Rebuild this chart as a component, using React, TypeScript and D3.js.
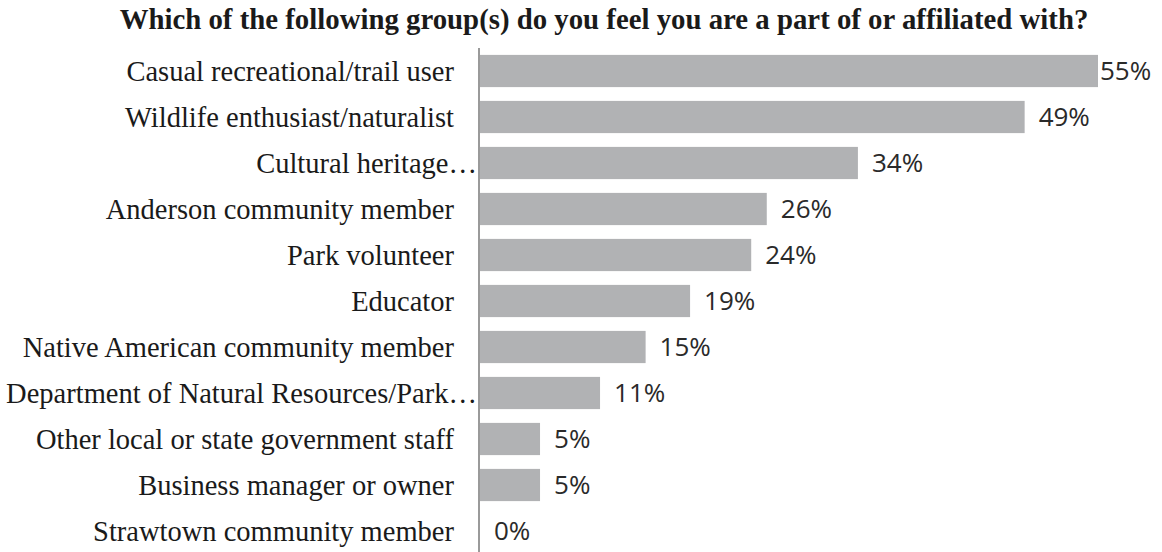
import React from "react";
import * as d3 from "d3";

const title = "Which of the following group(s) do you feel you are a part of or affiliated with?";
const categories = [
  "Casual recreational/trail user",
  "Wildlife enthusiast/naturalist",
  "Cultural heritage…",
  "Anderson community member",
  "Park volunteer",
  "Educator",
  "Native American community member",
  "Department of Natural Resources/Park…",
  "Other local or state government staff",
  "Business manager or owner",
  "Strawtown community member",
];
const values = [55.6, 49.0, 34.0, 25.8, 24.4, 18.9, 14.9, 10.8, 5.4, 5.4, 0];
const valueLabels = ["55%", "49%", "34%", "26%", "24%", "19%", "15%", "11%", "5%", "5%", "0%"];

const W = 1162;
const H = 552;
const axisX = 480;

export default function App() {
  const x = d3.scaleLinear().domain([0, 55.6]).range([axisX, 1098]);
  const y = d3
    .scaleBand<string>()
    .domain(categories)
    .range([48, 48 + categories.length * 46])
    .paddingInner(0.3)
    .paddingOuter(0.15);

  return (
    <svg
      width={W}
      height={H}
      style={{ position: "absolute", left: 0, top: 0, background: "#fff" }}
    >
      <text
        x={604}
        y={29}
        textAnchor="middle"
        fontFamily="'Liberation Serif', 'Times New Roman', serif"
        fontWeight="bold"
        fontSize={28.8}
        fill="#1a1a1a"
      >
        {title}
      </text>
      {categories.map((c, i) => {
        const yy = y(c)!;
        const bw = y.bandwidth();
        const end = x(values[i]);
        const lx = Math.min(end + 14, 1100);
        return (
          <g key={c}>
            {values[i] > 0 && (
              <rect x={axisX} y={yy} width={end - axisX} height={bw} fill="#b1b2b4" />
            )}
            <text
              x={c.endsWith("…") ? 477 : 454}
              y={yy + bw / 2}
              dy="0.35em"
              textAnchor="end"
              fontFamily="'Liberation Serif', 'Times New Roman', serif"
              fontSize={28.5}
              fill="#1a1a1a"
            >
              {c}
            </text>
            <text
              x={lx}
              y={yy + bw / 2}
              dy="0.36em"
              fontFamily="'Open Sans', 'Noto Sans', sans-serif"
              fontSize={26}
              fill="#2a2a2a"
            >
              {valueLabels[i]}
            </text>
          </g>
        );
      })}
      <line x1={axisX - 1} x2={axisX - 1} y1={48} y2={H} stroke="#9a9a9a" strokeWidth={2} />
    </svg>
  );
}
